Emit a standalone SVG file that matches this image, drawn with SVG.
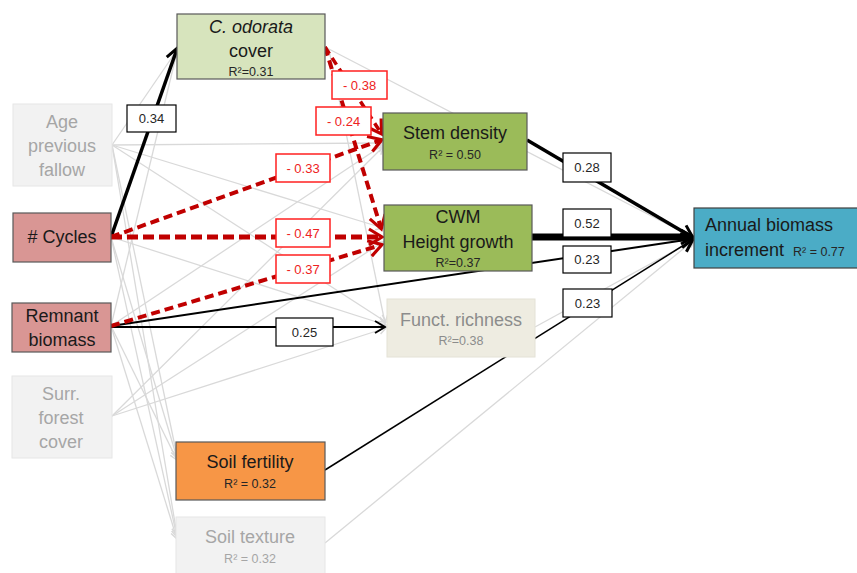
<svg xmlns="http://www.w3.org/2000/svg" width="857" height="573" viewBox="0 0 857 573">
<style>
text{font-family:"Liberation Sans",Arial,sans-serif;text-anchor:middle;}
.t{font-size:18px;fill:#1a1a1a;}
.tg{font-size:18px;fill:#a6a6a6;}
.r{font-size:12.5px;fill:#262626;}
.rg{font-size:12.5px;fill:#a6a6a6;}
.lab{font-size:13px;fill:#262626;}
.labr{font-size:13px;fill:#ee2222;}
.gl{stroke:#d9d9d9;stroke-width:1.3;fill:none;marker-end:url(#ag);}
.rd{stroke:#c00000;fill:none;marker-end:url(#ar);}
.bk{stroke:#000;fill:none;}
.lb{fill:#fff;stroke:#000;stroke-width:1.2;}
.lbr{fill:#fff;stroke:#ff2020;stroke-width:1.5;}
</style>
<defs>
<marker id="ar" markerUnits="userSpaceOnUse" markerWidth="30" markerHeight="30" viewBox="-15 -15 30 30" refX="0" refY="0" orient="auto">
<path d="M-12,-8 L1,0 L-12,8" fill="none" stroke="#c00000" stroke-width="3.2"/>
</marker>
<marker id="ab" markerUnits="userSpaceOnUse" markerWidth="30" markerHeight="30" viewBox="-15 -15 30 30" refX="0" refY="0" orient="auto">
<path d="M-11,-7 L1,0 L-11,7" fill="none" stroke="#000" stroke-width="3"/>
</marker>
<marker id="abt" markerUnits="userSpaceOnUse" markerWidth="30" markerHeight="30" viewBox="-15 -15 30 30" refX="0" refY="0" orient="auto">
<path d="M-9,-6 L1,0 L-9,6" fill="none" stroke="#000" stroke-width="2"/>
</marker>
<marker id="ag" markerUnits="userSpaceOnUse" markerWidth="20" markerHeight="20" viewBox="-10 -10 20 20" refX="0" refY="0" orient="auto">
<path d="M-7,-4 L0,0 L-7,4" fill="none" stroke="#d9d9d9" stroke-width="1.5"/>
</marker>
</defs>

<g id="connectors">
<!-- gray non-significant paths -->
<line class="gl" x1="112" y1="145" x2="177" y2="50"/>
<line class="gl" x1="112" y1="145" x2="383" y2="143"/>
<line class="gl" x1="112" y1="145" x2="383" y2="228"/>
<line class="gl" x1="112" y1="145" x2="386" y2="322"/>
<line class="gl" x1="112" y1="145" x2="177" y2="456"/>
<line class="gl" x1="112" y1="145" x2="177" y2="535"/>
<line class="gl" x1="111" y1="237" x2="386" y2="325"/>
<line class="gl" x1="111" y1="237" x2="177" y2="458"/>
<line class="gl" x1="111" y1="237" x2="177" y2="537"/>
<line class="gl" x1="111" y1="326" x2="177" y2="52"/>
<line class="gl" x1="111" y1="326" x2="383" y2="145"/>
<line class="gl" x1="111" y1="326" x2="177" y2="460"/>
<line class="gl" x1="111" y1="326" x2="177" y2="539"/>
<line class="gl" x1="112" y1="416" x2="383" y2="147"/>
<line class="gl" x1="112" y1="416" x2="383" y2="242"/>
<line class="gl" x1="112" y1="416" x2="386" y2="328"/>
<line class="gl" x1="325" y1="47" x2="694" y2="238"/>
<line class="gl" x1="329" y1="50" x2="385" y2="323"/>
<line class="gl" x1="535" y1="327" x2="694" y2="240"/>
<line class="gl" x1="325" y1="543" x2="694" y2="240"/>

<!-- black significant positive paths -->
<line class="bk" x1="111" y1="237" x2="177" y2="49" stroke-width="3.5" marker-end="url(#ab)"/>
<line class="bk" x1="527" y1="140" x2="692" y2="237" stroke-width="3.5" marker-end="url(#ab)"/>
<line class="bk" x1="532" y1="237" x2="692" y2="237" stroke-width="7" marker-end="url(#ab)"/>
<line class="bk" x1="111" y1="326" x2="692" y2="239" stroke-width="2" marker-end="url(#ab)"/>
<line class="bk" x1="325" y1="470" x2="692" y2="240" stroke-width="1.5" marker-end="url(#ab)"/>
<line class="bk" x1="111" y1="327" x2="384" y2="327" stroke-width="2" marker-end="url(#abt)"/>

<!-- red dashed negative paths -->
<line class="rd" x1="111" y1="237" x2="381" y2="140" stroke-width="4" stroke-dasharray="9 5"/>
<line class="rd" x1="111" y1="237" x2="381" y2="237" stroke-width="5" stroke-dasharray="11 5"/>
<line class="rd" x1="111" y1="326" x2="381" y2="245" stroke-width="4" stroke-dasharray="9 5"/>
<line class="rd" x1="325" y1="47" x2="381" y2="133" stroke-width="3.5" stroke-dasharray="8 5"/>
<line class="rd" x1="325" y1="47" x2="381" y2="228" stroke-width="4" stroke-dasharray="9 5"/>
</g>

<g id="nodes">
<g id="c-odorata">
<rect x="177" y="14" width="148" height="65" fill="#d7e4bd" stroke="#595959" stroke-width="1.2"/>
<text class="t" x="251" y="33" font-style="italic">C. odorata</text>
<text class="t" x="251" y="57">cover</text>
<text class="r" x="251" y="76">R²=0.31</text>
</g>
<g id="age">
<rect x="13" y="104" width="99" height="82" fill="#f2f2f2" stroke="#e6e6e6" stroke-width="1"/>
<text class="tg" x="62" y="128">Age</text>
<text class="tg" x="62" y="152">previous</text>
<text class="tg" x="62" y="176">fallow</text>
</g>
<g id="cycles">
<rect x="13" y="213" width="98" height="49" fill="#d99694" stroke="#595959" stroke-width="1.2"/>
<text class="t" x="62" y="243"># Cycles</text>
</g>
<g id="remnant">
<rect x="12" y="303" width="99" height="49" fill="#d99694" stroke="#595959" stroke-width="1.2"/>
<text class="t" x="62" y="322">Remnant</text>
<text class="t" x="62" y="346">biomass</text>
</g>
<g id="surr-forest">
<rect x="12" y="376" width="100" height="82" fill="#f2f2f2" stroke="#e6e6e6" stroke-width="1"/>
<text class="tg" x="61" y="400">Surr.</text>
<text class="tg" x="61" y="424">forest</text>
<text class="tg" x="61" y="448">cover</text>
</g>
<g id="stem-density">
<rect x="383" y="113" width="144" height="57" fill="#9bbb59" stroke="#595959" stroke-width="1.2"/>
<text class="t" x="455" y="139">Stem density</text>
<text class="r" x="455" y="159">R² = 0.50</text>
</g>
<g id="cwm-height">
<rect x="384" y="205" width="148" height="66" fill="#9bbb59" stroke="#595959" stroke-width="1.2"/>
<text class="t" x="458" y="223">CWM</text>
<text class="t" x="458" y="248">Height growth</text>
<text class="r" x="458" y="267">R²=0.37</text>
</g>
<g id="annual-biomass">
<rect x="694" y="208" width="170" height="60" fill="#4bacc6" stroke="#404040" stroke-width="1.2"/>
<text class="t" x="705" y="231" style="text-anchor:start">Annual biomass</text>
<text class="t" x="705" y="256" style="text-anchor:start">increment</text>
<text class="r" x="793" y="256" style="text-anchor:start">R² = 0.77</text>
</g>
<g id="funct-richness">
<rect x="387" y="299" width="148" height="58" fill="#eeece1" stroke="#e4e2d6" stroke-width="1"/>
<text class="t" x="461" y="326" style="fill:#8c8c8c">Funct. richness</text>
<text class="r" x="461" y="345" style="fill:#8c8c8c">R²=0.38</text>
</g>
<g id="soil-fertility">
<rect x="176" y="442" width="149" height="58" fill="#f79646" stroke="#595959" stroke-width="1.2"/>
<text class="t" x="250" y="468">Soil fertility</text>
<text class="r" x="250" y="488">R² = 0.32</text>
</g>
<g id="soil-texture">
<rect x="176" y="517" width="149" height="60" fill="#f2f2f2" stroke="#e6e6e6" stroke-width="1"/>
<text class="tg" x="250" y="543">Soil texture</text>
<text class="rg" x="250" y="563">R² = 0.32</text>
</g>
</g>

<g id="edge-labels">
<rect class="lb" x="127" y="105" width="49" height="27"/><text class="lab" x="151.5" y="123">0.34</text>
<rect class="lbr" x="332" y="71" width="55" height="28"/><text class="labr" x="359.5" y="90">- 0.38</text>
<rect class="lbr" x="316" y="107" width="55" height="28"/><text class="labr" x="343.5" y="126">- 0.24</text>
<rect class="lbr" x="276" y="154" width="54" height="28"/><text class="labr" x="303" y="173">- 0.33</text>
<rect class="lbr" x="276" y="219" width="54" height="28"/><text class="labr" x="303" y="238">- 0.47</text>
<rect class="lbr" x="276" y="255" width="54" height="28"/><text class="labr" x="303" y="274">- 0.37</text>
<rect class="lb" x="276" y="318" width="57" height="28"/><text class="lab" x="304.5" y="337">0.25</text>
<rect class="lb" x="563" y="153" width="48" height="29"/><text class="lab" x="587" y="172">0.28</text>
<rect class="lb" x="563" y="209" width="48" height="28"/><text class="lab" x="587" y="228">0.52</text>
<rect class="lb" x="563" y="246" width="48" height="27"/><text class="lab" x="587" y="264">0.23</text>
<rect class="lb" x="563" y="289" width="49" height="28"/><text class="lab" x="587.5" y="308">0.23</text>
</g>
</svg>
